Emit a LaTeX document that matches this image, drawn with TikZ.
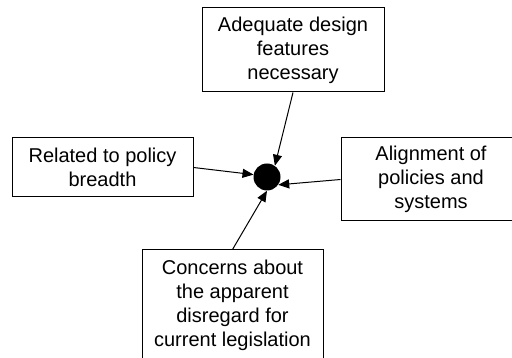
\documentclass[tikz,border=0pt]{standalone}
\usepackage{fontspec}
\setmainfont{Liberation Sans}
\usetikzlibrary{arrows.meta}

\begin{document}
\begin{tikzpicture}[x=1pt, y=1pt,
		box/.style={draw, line width=1pt, align=center, inner sep=0pt,
			font=\fontsize{20}{24}\selectfont},
		link/.style={draw, line width=1pt, -{Triangle[length=11pt,width=9pt]}}]
			\useasboundingbox (0, 0) rectangle (512, 358);
			
			% the four boxes
			\node[box, minimum width=182, minimum height=84] (design) at (293, 308) {Adequate design\\features\\necessary};
			\node[box, minimum width=181, minimum height=59] (breadth) at (102.5, 190.5) {Related to policy\\breadth};
			\node[box, minimum width=180, minimum height=83] (align) at (431, 178.5) {Alignment of\\policies and\\systems};
			\node[box, minimum width=181, minimum height=110] (concerns) at (232.5, 53) {Concerns about\\the apparent\\disregard for\\current legislation};
			
			% the dot in the middle
			\node[circle, fill=black, minimum size=27, inner sep=0pt] (hub) at (267, 181) {};
			
			% arrows into the dot
			\draw[link] (design.south) -- (hub.55);
			\draw[link] (breadth.east) -- (hub.170);
			\draw[link] (align.west) -- (hub.-35);
			\draw[link] (concerns.north) -- (hub.south);
			
		\end{tikzpicture}
\end{document}
